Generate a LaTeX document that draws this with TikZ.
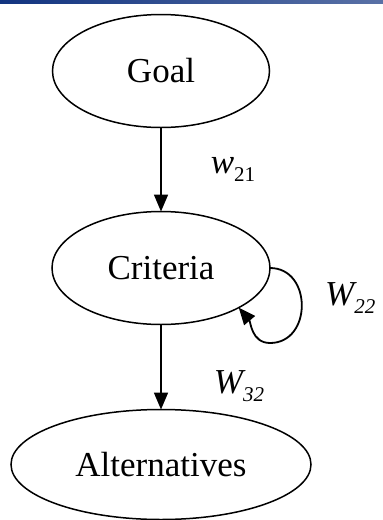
\documentclass[tikz,border=0pt]{standalone}
\usepackage{fontspec}
\setmainfont{Liberation Serif}
\usetikzlibrary{arrows.meta,positioning,shapes.geometric}
\definecolor{barblue}{RGB}{18,52,128}
\newcommand{\lsub}[1]{\raisebox{-8pt}{\fontsize{21}{21}\selectfont #1}}

\begin{document}
\begin{tikzpicture}[
    x=1pt, y=1pt,
    oval/.style={ellipse, draw, line width=1.5pt, inner sep=0pt, outer sep=0pt, font=\fontsize{35}{42}\selectfont},
    arrow/.style={-{Triangle[length=17pt,width=14pt]}, line width=1.8pt},
    weight/.style={inner sep=0pt, font=\fontsize{35}{42}\selectfont\itshape}
]
    \useasboundingbox (0,0) rectangle (383,-520);
    \shade[left color=barblue, right color=barblue!70] (0,0) rectangle (383,-3);

    \node[oval, minimum width=217pt, minimum height=113pt] (goal) at (161,-71) {Goal};
    \node[oval, minimum width=218pt, minimum height=113pt, below=84pt of goal] (criteria) {Criteria};
    \node[oval, minimum width=300pt, minimum height=110pt, below=85pt of criteria] (alts) {Alternatives};
    \coordinate (loopbottom) at (270,-343);

    \draw[arrow] (goal) -- node[weight, right=49pt, pos=0.5] (w21) {w\lsub{\upshape 21}} (criteria);
    \draw[arrow] (criteria) -- node[weight, right=52pt, pos=0.72] (w32) {W\lsub{32}} (alts);
    \draw[line width=1.8pt] (criteria.east) to[out=0, in=0, looseness=1.45] (loopbottom);
    \draw[arrow] (loopbottom) to[out=180, in=-50] (criteria.-27);
    \node[weight, below right=14pt and 55pt of criteria.east] (w22) {W\lsub{22}};
\end{tikzpicture}
\end{document}
